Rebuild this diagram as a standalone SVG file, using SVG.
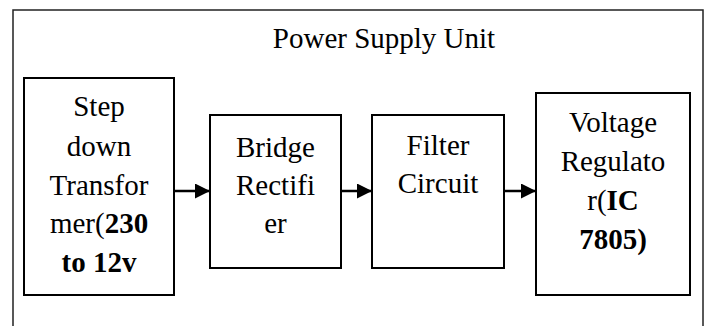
<svg xmlns="http://www.w3.org/2000/svg" width="708" height="326" viewBox="0 0 708 326">
<style>
.box{fill:#fff;stroke:#000;stroke-width:2}
.t{font-family:'Liberation Serif','Tinos','DejaVu Serif',serif;font-size:29px;fill:#000;text-anchor:middle}
.b{font-weight:bold}
.conn{stroke:#000;stroke-width:2.5;fill:none}
</style>
<defs>
<marker id="ah" viewBox="0 0 10 10" refX="10" refY="5" markerWidth="6" markerHeight="6" markerUnits="strokeWidth" orient="auto">
<path d="M0,0 L10,5 L0,10 z" fill="#000"/>
</marker>
</defs>
<rect width="708" height="326" fill="#fff"/>
<g id="frame">
<rect x="13" y="10" width="690" height="330" fill="none" stroke="#222" stroke-width="1.5"/>
<text class="t" x="384" y="48" font-family="Liberation Serif">Power Supply Unit</text>
</g>
<g id="transformer">
<rect class="box" x="24" y="78" width="150" height="217"/>
<text class="t" x="99" y="116">Step</text>
<text class="t" x="99" y="156">down</text>
<text class="t" x="99" y="195">Transfor</text>
<text class="t" x="99" y="233">mer(<tspan class="b">230</tspan></text>
<text class="t b" x="99" y="272">to 12v</text>
</g>
<g id="rectifier">
<rect class="box" x="210" y="115" width="131" height="153"/>
<text class="t" x="275.5" y="157">Bridge</text>
<text class="t" x="275.5" y="195">Rectifi</text>
<text class="t" x="275.5" y="233">er</text>
</g>
<g id="filter">
<rect class="box" x="372" y="115" width="132" height="153"/>
<text class="t" x="438" y="155">Filter</text>
<text class="t" x="438" y="193">Circuit</text>
</g>
<g id="regulator">
<rect class="box" x="536" y="93" width="154" height="202"/>
<text class="t" x="613" y="132">Voltage</text>
<text class="t" x="613" y="171">Regulato</text>
<text class="t" x="613" y="210">r(<tspan class="b">IC</tspan></text>
<text class="t b" x="613" y="249">7805)</text>
</g>
<g id="connectors">
<line class="conn" x1="174" y1="191" x2="210" y2="191" marker-end="url(#ah)"/>
<line class="conn" x1="341" y1="191" x2="372" y2="191" marker-end="url(#ah)"/>
<line class="conn" x1="504" y1="191" x2="536" y2="191" marker-end="url(#ah)"/>
</g>
</svg>
